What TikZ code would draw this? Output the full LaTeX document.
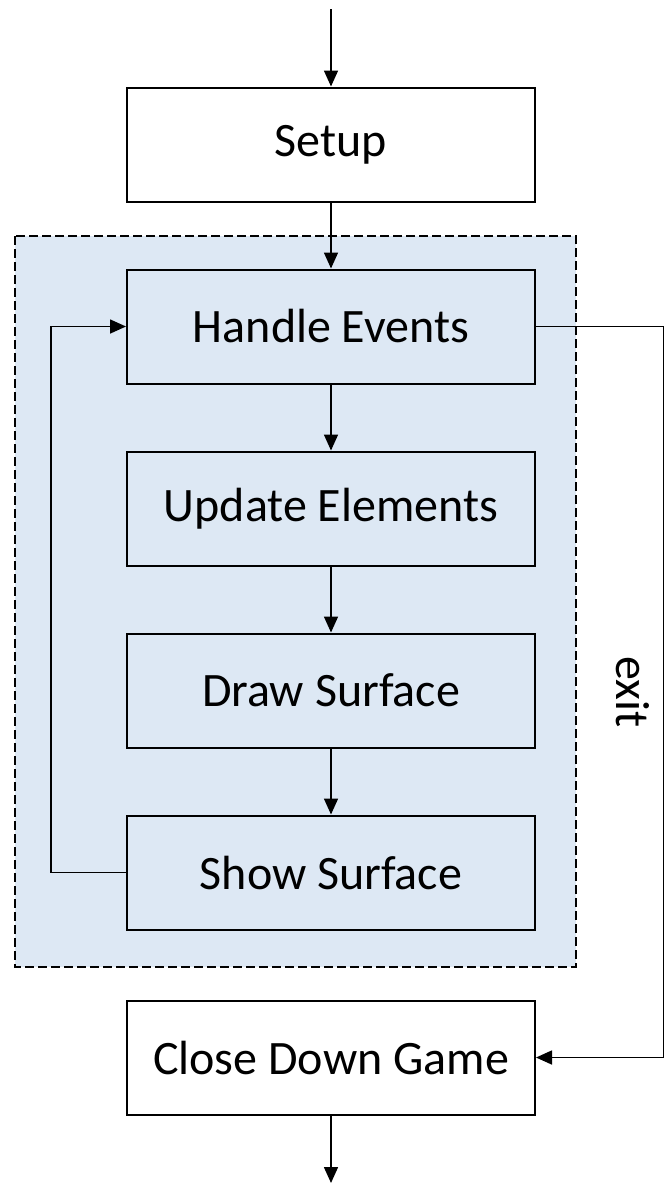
\documentclass[tikz,border=0pt]{standalone}
\usepackage{fontspec}
\setmainfont{Carlito}
\usetikzlibrary{positioning}
\usetikzlibrary{arrows.meta}
\definecolor{loopblue}{HTML}{DDE8F4}
\tikzset{
        % Boxes outside the game loop
        box_plain/.style={rectangle, draw=black, line width=1pt, fill=white, inner sep=0pt,
                minimum width=204pt, minimum height=57pt, font=\fontsize{24}{28}\selectfont},
        % Boxes inside the game loop
        box_loop/.style={box_plain, fill=loopblue},
        % Dashed region round the game loop
        loop_region/.style={draw=black, line width=0.75pt, dash pattern=on 4.5pt off 2pt, fill=loopblue},
        % Connectors
        flow/.style={-{Triangle[length=8pt,width=7pt]}, line width=0.8pt}
}
\begin{document}
\begin{tikzpicture}[
            x=0.5pt, y=-0.5pt,
            node distance=33pt
        ]
            \useasboundingbox (0,0) rectangle (664,1185);
            \draw[loop_region] (15,236) rectangle (576,967);

            \node[box_plain] (setup) at (331,144.5) {Setup};
            \node[box_loop, below=of setup] (handle) {Handle Events};
            \node[box_loop, below=of handle] (update) {Update Elements};
            \node[box_loop, below=of update] (drawsurf) {Draw Surface};
            \node[box_loop, below=of drawsurf] (show) {Show Surface};
            \node[box_plain, below=34.5pt of show] (close) {Close Down Game};

            \coordinate (start) at (331,9);
            \coordinate (finish) at (331,1183);

            \draw[flow] (start) -- (setup);
            \draw[flow] (setup) -- (handle);
            \draw[flow] (handle) -- (update);
            \draw[flow] (update) -- (drawsurf);
            \draw[flow] (drawsurf) -- (show);
            \draw[flow] (show.west) -- ++(-75,0) |- (handle.west);
            \draw[flow] (handle.east) -- ++(128,0) |- (close.east)
                node[pos=0.25, anchor=north, rotate=-90, inner sep=7pt, font=\fontsize{24}{28}\selectfont] (exitlabel) {exit};
            \draw[flow] (close) -- (finish);
        \end{tikzpicture}
\end{document}
